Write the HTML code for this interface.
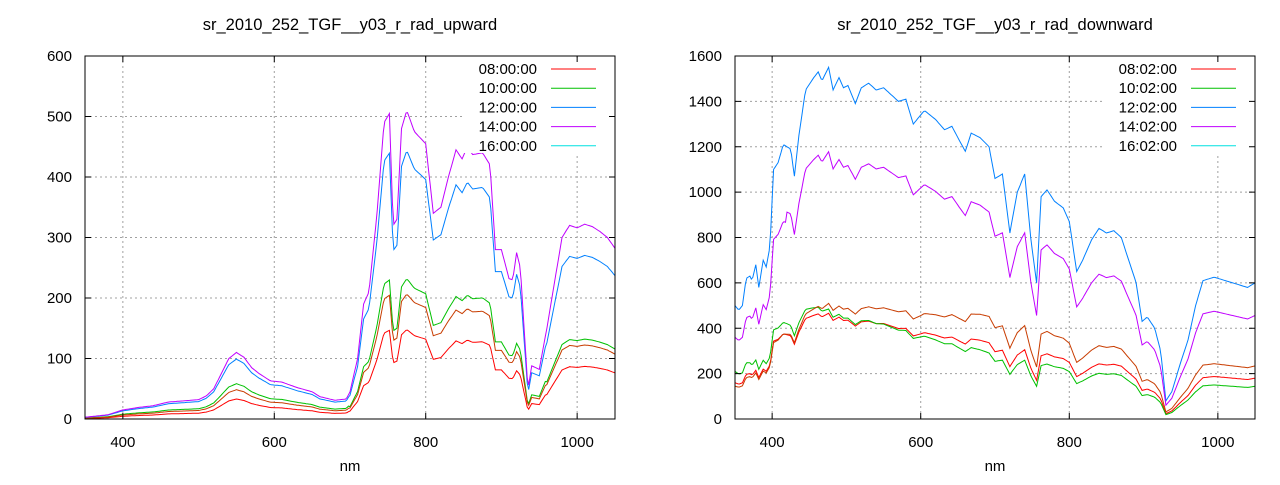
<!DOCTYPE html>
<html><head><meta charset="utf-8"><style>
body{margin:0;background:#fff;}
svg text{font-family:"Liberation Sans",sans-serif;font-size:15px;fill:#000;}
svg text.t{font-size:16.5px;}
</style></head><body>
<svg id="s" width="1280" height="480" xmlns="http://www.w3.org/2000/svg"></svg>
<script>
const S=document.getElementById('s');let h='';
function interp(pts,x){for(let i=0;i<pts.length-1;i++){if(x>=pts[i][0]&&x<=pts[i+1][0]){const t=(x-pts[i][0])/(pts[i+1][0]-pts[i][0]);return pts[i][1]+t*(pts[i+1][1]-pts[i][1]);}}return pts[pts.length-1][1];}
function plot(o){
 const {x0,x1,y0,y1,ymax,ystep,title,series,legend}=o;
 const X=n=>x0+(n-350)/700*(x1-x0), Y=v=>y1-v/ymax*(y1-y0);
 for(let n=400;n<=1000;n+=200){h+=`<line x1="${X(n)}" y1="${y0}" x2="${X(n)}" y2="${y1}" stroke="#a0a0a0" stroke-dasharray="2,3" stroke-width="1"/>`;}
 for(let v=ystep;v<ymax;v+=ystep){h+=`<line x1="${x0}" y1="${Y(v)}" x2="${x1}" y2="${Y(v)}" stroke="#a0a0a0" stroke-dasharray="2,3" stroke-width="1"/>`;}
 for(const s of series){let p=[];for(let n=350;n<=1050;n+=2){p.push(X(n).toFixed(1)+','+Y(Math.max(0,s.f(n))).toFixed(1));}
  h+=`<polyline points="${p.join(' ')}" fill="none" stroke="${s.c}" stroke-width="1"/>`;}
 h+=`<rect x="${legend.bx}" y="${y0+3}" width="${x1-legend.bx-2}" height="94" fill="#fff"/>`;
 const cols=['#ff0000','#00c000','#0080ff','#c000ff','#00e0e0'];
 legend.labels.forEach((l,i)=>{const yy=69+i*19.2;h+=`<text x="${legend.tx}" y="${yy+5}" text-anchor="end">${l}</text><line x1="${legend.lx}" y1="${yy}" x2="${legend.lx+45}" y2="${yy}" stroke="${cols[i]}"/>`;});
 h+=`<rect x="${x0}" y="${y0}" width="${x1-x0}" height="${y1-y0}" fill="none" stroke="#000"/>`;
 for(let n=400;n<=1000;n+=200){h+=`<line x1="${X(n)}" y1="${y1}" x2="${X(n)}" y2="${y1-6}" stroke="#000"/><line x1="${X(n)}" y1="${y0}" x2="${X(n)}" y2="${y0+6}" stroke="#000"/><text x="${X(n)}" y="${y1+28}" text-anchor="middle">${n}</text>`;}
 for(let v=0;v<=ymax;v+=ystep){h+=`<line x1="${x0}" y1="${Y(v)}" x2="${x0+6}" y2="${Y(v)}" stroke="#000"/><line x1="${x1}" y1="${Y(v)}" x2="${x1-6}" y2="${Y(v)}" stroke="#000"/><text x="${x0-13}" y="${Y(v)+5}" text-anchor="end">${v}</text>`;}
 h+=`<text class="t" x="${(x0+x1)/2}" y="30" text-anchor="middle">${title}</text><text x="${(x0+x1)/2}" y="471" text-anchor="middle">nm</text>`;
}
const up=[[350,3],[380,7],[400,15],[420,19],[440,22],[460,28],[500,32],[510,38],[520,50],[530,75],[540,100],[550,110],[560,102],[570,85],[580,75],[595,63],[610,61],[630,52],[650,45],[660,37],[680,31],[695,33],[700,45],[710,100],[718,190],[725,210],[735,330],[745,490],[752,505],[757,320],[762,330],[768,480],[775,510],[785,475],[800,455],[810,340],[820,350],[830,400],[840,445],[848,430],[855,450],[862,437],[875,440],[885,420],[892,280],[900,280],[910,232],[915,230],[920,275],[925,250],[930,150],[935,48],[940,88],[950,82],[960,150],[970,225],[980,300],[990,320],[1000,316],[1010,322],[1020,318],[1030,310],[1040,300],[1050,282]];
const U=n=>interp(up,n);
plot({x0:85,x1:615,y0:56,y1:419,ymax:600,ystep:100,title:'sr_2010_252_TGF__y03_r_rad_upward',
 legend:{bx:463,tx:537,lx:551,labels:['08:00:00','10:00:00','12:00:00','14:00:00','16:00:00']},
 series:[
 {c:'#ff0000',f:n=>U(n)*(n<700?0.3:(n<960?0.29:0.27))},
 {c:'#00c000',f:n=>U(n)*(n<700?0.53:(n<960?0.455:0.41))},
 {c:'#c83c00',f:n=>U(n)*(n<700?0.44:(n<960?0.405:0.38))},
 {c:'#0080ff',f:n=>U(n)*(n<700?0.9:(n<960?0.87:0.84))},
 {c:'#c000ff',f:U}]});
const dn=[[350,500],[355,480],[360,500],[365,620],[370,630],[373,610],[378,680],[382,580],[388,700],[392,670],[397,760],[402,1100],[408,1130],[415,1210],[425,1190],[430,1070],[436,1250],[445,1450],[455,1500],[462,1530],[467,1490],[476,1550],[482,1450],[490,1505],[496,1460],[502,1470],[512,1390],[520,1460],[530,1480],[540,1450],[550,1460],[560,1430],[570,1400],[580,1410],[590,1300],[605,1360],[620,1320],[632,1275],[642,1290],[650,1240],[660,1180],[668,1260],[680,1240],[692,1200],[700,1060],[710,1080],[720,820],[730,1000],[740,1080],[748,800],[756,600],[762,980],[770,1010],[780,960],[792,930],[800,870],[810,650],[818,700],[830,790],[840,840],[850,820],[860,830],[870,800],[880,700],[890,600],[898,430],[905,450],[915,400],[923,300],[930,80],[938,120],[950,250],[960,350],[970,500],[980,610],[995,625],[1010,610],[1030,590],[1040,580],[1050,600]];
const D=n=>interp(dn,n);
const rg=[[350,0.42],[395,0.36],[420,0.35],[480,0.31],[600,0.27],[700,0.24],[1050,0.24]];
const rr=[[350,0.32],[480,0.30],[600,0.28],[700,0.28],[1000,0.30],[1050,0.30]];
const rb=[[350,0.29],[480,0.33],[600,0.34],[700,0.38],[1000,0.39],[1050,0.39]];
plot({x0:735,x1:1255,y0:56,y1:419,ymax:1600,ystep:200,title:'sr_2010_252_TGF__y03_r_rad_downward',
 legend:{bx:1102,tx:1177,lx:1191,labels:['08:02:00','10:02:00','12:02:00','14:02:00','16:02:00']},
 series:[
 {c:'#ff0000',f:n=>D(n)*interp(rr,n)},
 {c:'#00c000',f:n=>D(n)*interp(rg,n)},
 {c:'#c83c00',f:n=>D(n)*interp(rb,n)},
 {c:'#0080ff',f:D},
 {c:'#c000ff',f:n=>D(n)*(n<420?0.72:0.76)}]});
S.innerHTML=h;
</script>
</body></html>
